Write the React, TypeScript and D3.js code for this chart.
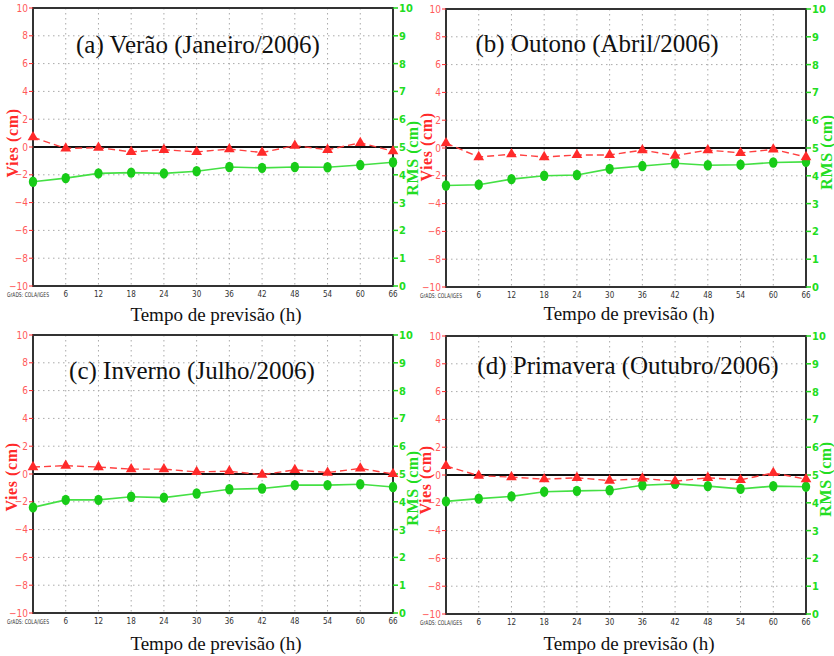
import { useEffect, useRef } from "react";
import * as d3 from "d3";

// horas de previsão
const hours = [0, 6, 12, 18, 24, 30, 36, 42, 48, 54, 60, 66];
const biasTicks = [10, 8, 6, 4, 2, 0, -2, -4, -6, -8, -10];
const rmsTicks = [0, 1, 2, 3, 4, 5, 6, 7, 8, 9, 10];

const titles = [
  "(a) Verão (Janeiro/2006)",
  "(b) Outono (Abril/2006)",
  "(c) Inverno (Julho/2006)",
  "(d) Primavera (Outubro/2006)",
];

// Vies (cm)
const biasA = [0.7, -0.1, -0.05, -0.35, -0.2, -0.35, -0.15, -0.4, 0.1, -0.2, 0.3, -0.3];
const biasB = [0.35, -0.65, -0.45, -0.65, -0.5, -0.5, -0.15, -0.55, -0.15, -0.35, -0.1, -0.65];
const biasC = [0.5, 0.6, 0.5, 0.35, 0.35, 0.15, 0.2, -0.05, 0.3, 0.1, 0.4, 0.0];
const biasD = [0.65, -0.05, -0.15, -0.3, -0.2, -0.4, -0.25, -0.45, -0.2, -0.35, 0.15, -0.3];

// RMS (cm)
const rmsA = [3.75, 3.88, 4.05, 4.08, 4.05, 4.13, 4.28, 4.25, 4.28, 4.27, 4.35, 4.45];
const rmsB = [3.65, 3.68, 3.88, 4.0, 4.03, 4.25, 4.35, 4.45, 4.38, 4.4, 4.48, 4.5];
const rmsC = [3.8, 4.07, 4.07, 4.18, 4.15, 4.3, 4.45, 4.48, 4.6, 4.6, 4.63, 4.53];
const rmsD = [4.05, 4.15, 4.23, 4.4, 4.43, 4.45, 4.63, 4.68, 4.6, 4.5, 4.6, 4.58];

const biasSeries = [biasA, biasB, biasC, biasD];
const rmsSeries = [rmsA, rmsB, rmsC, rmsD];

// posição de cada painel
const panels = [
  { left: 33, top: 8, titleX: 198, titleY: 53, xlabY: 321, viesX: 13, viesY: 143, rmsX: 413, rmsY: 158 },
  { left: 446, top: 9, titleX: 597, titleY: 52, xlabY: 320, viesX: 427, viesY: 147, rmsX: 827, rmsY: 152 },
  { left: 33, top: 335, titleX: 192, titleY: 379, xlabY: 650, viesX: 12, viesY: 477, rmsX: 413, rmsY: 488 },
  { left: 446, top: 336, titleX: 628, titleY: 374, xlabY: 650, viesX: 426, viesY: 480, rmsX: 826, rmsY: 479 },
];

const W = 360;
const H = 278;
const RED = "#ff2a2a";
const GREEN = "#1ed41e";

const App = () => {
  const svgRef = useRef<SVGSVGElement>(null);

  useEffect(() => {
    if (!svgRef.current) return;
    const svg = d3.select(svgRef.current);
    svg.selectAll("*").remove();

    svg.append("rect").attr("width", 834).attr("height", 656).attr("fill", "white");

    panels.forEach((p, i) => {
      const x = d3.scaleLinear().domain([0, 66]).range([p.left, p.left + W]);
      const yL = d3.scaleLinear().domain([-10, 10]).range([p.top + H, p.top]);
      const yR = d3.scaleLinear().domain([0, 10]).range([p.top + H, p.top]);

      const g = svg.append("g");

      // grade pontilhada
      g.selectAll("line.vg")
        .data(hours.slice(1, -1))
        .join("line")
        .attr("x1", (d) => x(d))
        .attr("x2", (d) => x(d))
        .attr("y1", p.top)
        .attr("y2", p.top + H)
        .attr("stroke", "#aaa")
        .attr("stroke-width", 1)
        .attr("stroke-dasharray", "1.5,3.5");
      g.selectAll("line.hg")
        .data(biasTicks.slice(1, -1))
        .join("line")
        .attr("x1", p.left)
        .attr("x2", p.left + W)
        .attr("y1", (d) => yL(d))
        .attr("y2", (d) => yL(d))
        .attr("stroke", "#aaa")
        .attr("stroke-width", 1)
        .attr("stroke-dasharray", "1.5,3.5");

      // linha do zero
      g.append("line")
        .attr("x1", p.left)
        .attr("x2", p.left + W)
        .attr("y1", yL(0))
        .attr("y2", yL(0))
        .attr("stroke", "#111")
        .attr("stroke-width", 2);

      // moldura
      g.append("rect")
        .attr("x", p.left)
        .attr("y", p.top)
        .attr("width", W)
        .attr("height", H)
        .attr("fill", "none")
        .attr("stroke", "#333")
        .attr("stroke-width", 2);

      // eixo esquerdo (vermelho)
      biasTicks.forEach((t) => {
        g.append("line")
          .attr("x1", p.left - 4)
          .attr("x2", p.left)
          .attr("y1", yL(t))
          .attr("y2", yL(t))
          .attr("stroke", RED)
          .attr("stroke-width", 1);
        g.append("text")
          .attr("x", p.left - 5)
          .attr("y", yL(t) + 3.5)
          .attr("text-anchor", "end")
          .attr("fill", "#ff5a5a")
          .style("font", "10px 'Liberation Sans Narrow', 'DejaVu Sans Condensed', sans-serif")
          .text(t < 0 ? `\u2212${-t}` : `${t}`);
      });

      // eixo direito (verde)
      rmsTicks.forEach((t) => {
        g.append("line")
          .attr("x1", p.left + W)
          .attr("x2", p.left + W + 5)
          .attr("y1", yR(t))
          .attr("y2", yR(t))
          .attr("stroke", GREEN)
          .attr("stroke-width", 1.5);
        g.append("text")
          .attr("x", p.left + W + 6)
          .attr("y", yR(t) + 4)
          .attr("fill", "#22dd22")
          .style("font", "bold 11px 'Liberation Sans Narrow', 'DejaVu Sans Condensed', sans-serif")
          .text(`${t}`);
      });

      // rótulos do eixo x
      hours.slice(1).forEach((h) => {
        g.append("text")
          .attr("x", x(h))
          .attr("y", p.top + H + 11)
          .attr("text-anchor", "middle")
          .attr("fill", "#333")
          .style("font", "8px 'Liberation Sans Narrow', 'DejaVu Sans Condensed', sans-serif")
          .text(`${h}`);
      });
      g.append("text")
        .attr("x", p.left - 26)
        .attr("y", p.top + H + 11)
        .attr("textLength", 42)
        .attr("lengthAdjust", "spacingAndGlyphs")
        .attr("fill", "#333")
        .style("font", "6.5px 'DejaVu Sans Condensed', sans-serif")
        .text("GrADS: COLA/IGES");

      // RMS (verde, contínua)
      const rms = rmsSeries[i];
      g.append("path")
        .datum(rms)
        .attr("fill", "none")
        .attr("stroke", "#44e044")
        .attr("stroke-width", 1.6)
        .attr(
          "d",
          d3
            .line<number>()
            .x((_, j) => x(hours[j]))
            .y((d) => yR(d))
        );
      g.selectAll("ellipse.rms")
        .data(rms)
        .join("ellipse")
        .attr("cx", (_, j) => x(hours[j]))
        .attr("cy", (d) => yR(d))
        .attr("rx", 4.2)
        .attr("ry", 5.2)
        .attr("fill", "#18cc18");

      // Vies (vermelho, tracejada)
      const bias = biasSeries[i];
      g.append("path")
        .datum(bias)
        .attr("fill", "none")
        .attr("stroke", "#ff4040")
        .attr("stroke-width", 1.4)
        .attr("stroke-dasharray", "7,4")
        .attr(
          "d",
          d3
            .line<number>()
            .x((_, j) => x(hours[j]))
            .y((d) => yL(d))
        );
      const tri = d3.symbol().type(d3.symbolTriangle).size(50);
      g.selectAll("path.tri")
        .data(bias)
        .join("path")
        .attr("transform", (d, j) => `translate(${x(hours[j])},${yL(d)})`)
        .attr("d", tri)
        .attr("fill", RED);

      // títulos
      g.append("text")
        .attr("x", p.titleX)
        .attr("y", p.titleY)
        .attr("text-anchor", "middle")
        .attr("fill", "#111")
        .style("font", "25px 'Liberation Serif', 'Times New Roman', serif")
        .text(titles[i]);

      g.append("text")
        .attr("x", p.left + W / 2 + 3)
        .attr("y", p.xlabY)
        .attr("text-anchor", "middle")
        .attr("fill", "#111")
        .style("font", "19px 'Liberation Serif', 'Times New Roman', serif")
        .text("Tempo de previsão (h)");

      g.append("text")
        .attr("transform", `translate(${p.viesX + 5},${p.viesY}) rotate(-90)`)
        .attr("text-anchor", "middle")
        .attr("fill", RED)
        .style("font", "bold 16px 'Liberation Serif', 'Times New Roman', serif")
        .style("letter-spacing", "0.6px")
        .text("Vies (cm)");

      g.append("text")
        .attr("transform", `translate(${p.rmsX + 5},${p.rmsY}) rotate(-90)`)
        .attr("text-anchor", "middle")
        .attr("fill", "#22dd22")
        .style("font", "bold 16px 'Liberation Serif', 'Times New Roman', serif")
        .style("letter-spacing", "0.6px")
        .text("RMS (cm)");
    });
  }, []);

  return (
    <svg
      ref={svgRef}
      width={834}
      height={656}
      style={{ position: "absolute", left: 0, top: 0 }}
    />
  );
};

export default App;
